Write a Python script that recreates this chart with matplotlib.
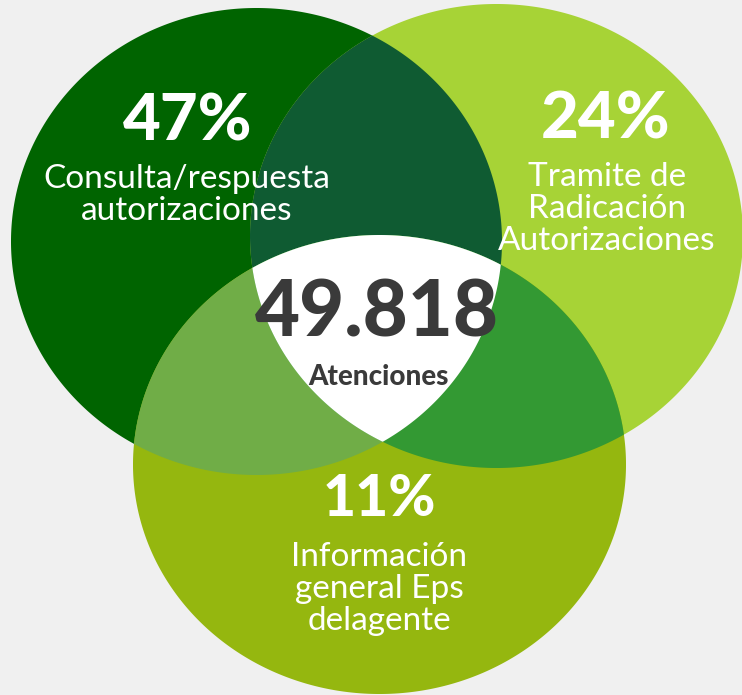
import numpy as np
import matplotlib
matplotlib.use("Agg")
import matplotlib.pyplot as plt
from matplotlib.patches import Polygon

# ---- data ----
categories = ["Consulta/respuesta\nautorizaciones",
              "Tramite de\nRadicación\nAutorizaciones",
              "Información\ngeneral Eps\ndelagente"]
percentages = [47, 24, 11]
total_label = "49.818"
total_caption = "Atenciones"

# ---- geometry / style ----
W, H = 742, 695
ellipses = {
    "L": (256.5, 241.5, 245.5, 233.5),
    "R": (496.5, 236.0, 246.5, 232.0),
    "B": (379.5, 464.5, 246.5, 229.5),
}
region_colors = {
    ("L",): "#006400",
    ("R",): "#A7D336",
    ("B",): "#95B70F",
    ("L", "R"): "#0F5B32",
    ("L", "B"): "#70AD47",
    ("R", "B"): "#339933",
    ("L", "R", "B"): "#FFFFFF",
}


def boundary(e, n=3000):
    cx, cy, rx, ry = e
    t = np.linspace(0, 2 * np.pi, n, endpoint=False)
    return np.column_stack([cx + rx * np.cos(t), cy + ry * np.sin(t)])


def inside(pts, e, tol=1e-9):
    cx, cy, rx, ry = e
    return ((pts[:, 0] - cx) / rx) ** 2 + ((pts[:, 1] - cy) / ry) ** 2 <= 1 + tol


def intersection(keys):
    pts_all = []
    for k in keys:
        p = boundary(ellipses[k])
        mask = np.ones(len(p), bool)
        for o in keys:
            if o != k:
                mask &= inside(p, ellipses[o])
        pts_all.append(p[mask])
    pts = np.vstack(pts_all)
    c = pts.mean(axis=0)
    ang = np.arctan2(pts[:, 1] - c[1], pts[:, 0] - c[0])
    return pts[np.argsort(ang)]


fig = plt.figure(figsize=(W / 100, H / 100), dpi=100)
fig.patch.set_facecolor("#F0F0F0")
ax = fig.add_axes([0, 0, 1, 1])
ax.set_xlim(0, W)
ax.set_ylim(H, 0)
ax.axis("off")

for keys, col in region_colors.items():
    poly = intersection(list(keys))
    ax.add_patch(Polygon(poly, closed=True, facecolor=col, edgecolor="none",
                         antialiased=True))

font = "Lato"
pct_pos = [(188, 122), (606, 120), (379, 500)]
pct_size = [47, 47, 41]
lab_pos = [(187, 195), (607, 209), (379, 589)]
for p, lab, (px, py), fs, (lx, ly) in zip(percentages, categories, pct_pos,
                                          pct_size, lab_pos):
    ax.text(px, py, f"{p}%", color="white", fontsize=fs,
            fontweight="black", family=font, ha="center", va="center")
    ax.text(lx, ly, lab, color="white", fontsize=24, family=font,
            fontweight="normal", ha="center", va="center", linespacing=1.1)

ax.text(377, 314, total_label, color="#3A3A3A", fontsize=56, fontweight="black",
        family=font, ha="center", va="center")
ax.text(378, 377, total_caption, color="#3A3A3A", fontsize=20, fontweight="black",
        family=font, ha="center", va="center")

fig.savefig("out.png", dpi=100, facecolor=fig.get_facecolor())
